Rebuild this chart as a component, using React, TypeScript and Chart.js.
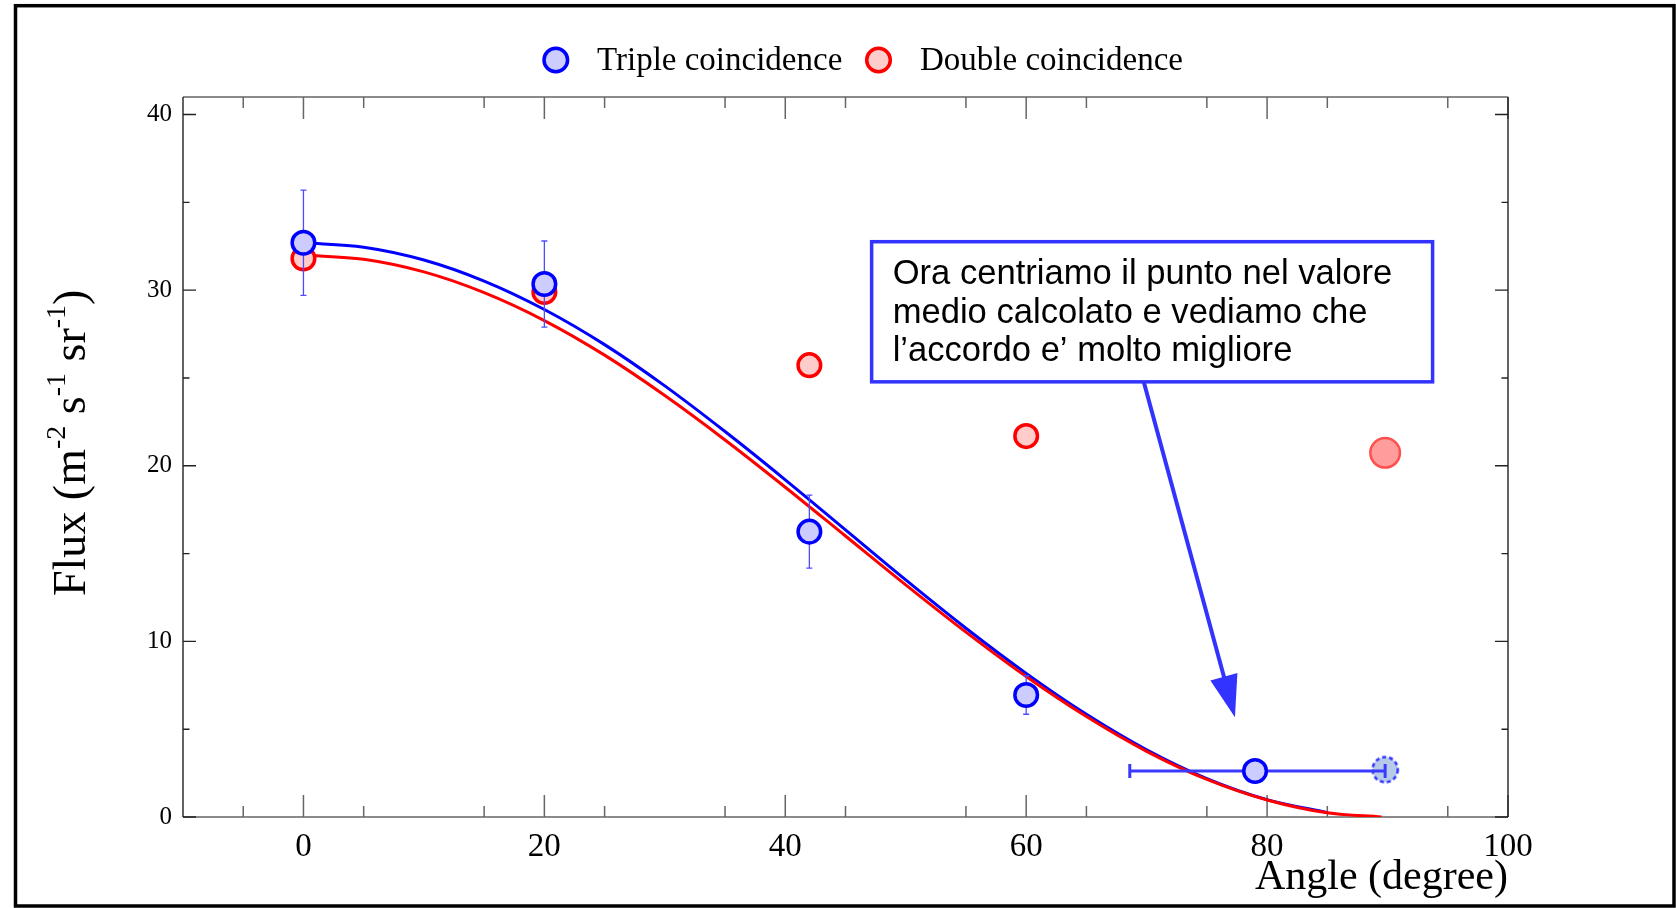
import React, { useEffect, useRef } from "react";
import { Chart, registerables } from "chart.js";

Chart.register(...registerables);

// ---------- data ----------
const fitAngles = [0, 5, 10, 15, 20, 25, 30, 35, 40, 45, 50, 55, 60, 65, 70, 75, 80, 85];
const tripleFit = [32.7, 32.45, 31.72, 30.52, 28.9, 26.9, 24.55, 21.95, 19.2, 16.35, 13.5, 10.75, 8.18, 5.85, 3.83, 2.19, 0.99, 0.25];
const doubleFitAngles = [0, 5, 10, 15, 20, 25, 30, 35, 40, 45, 50, 55, 60, 65, 70, 75, 80, 85, 89.5];
const doubleFit = [32.0, 31.76, 31.04, 29.86, 28.27, 26.3, 24.0, 21.47, 18.78, 16.0, 13.22, 10.53, 8.0, 5.72, 3.74, 2.14, 0.97, 0.24, 0.0];

const tripleAngles = [0, 20, 42, 60, 79];
const tripleFlux = [32.7, 30.35, 16.25, 6.95, 2.62];
const tripleFluxErr = [3.0, 2.45, 2.08, 1.1, 0];
const tripleAngleErrLow = [0, 0, 0, 0, 10.4];
const tripleAngleErrHigh = [0, 0, 0, 0, 10.8];

const tripleOldAngles = [89.8];
const tripleOldFlux = [2.7];

const doubleAngles = [0, 20, 42, 60];
const doubleFlux = [31.8, 29.9, 25.73, 21.69];
const doubleLastAngles = [89.8];
const doubleLastFlux = [20.74];

const xMajorTicks = [0, 20, 40, 60, 80, 100];
const xMinorTicks = [-5, 5, 15, 25, 35, 45, 55, 65, 75, 85, 95];
const yMajorTicks = [0, 10, 20, 30, 40];
const yMinorTicks = [5, 15, 25, 35];

const seriesLabels = ["Triple coincidence", "Double coincidence"];
const noteLines = [
  "Ora centriamo il punto nel valore",
  "medio calcolato e vediamo che",
  "l\u2019accordo e\u2019 molto migliore",
];
// annotation placement in data units
const noteBox = { x0: 47.17, x1: 93.74, y0: 32.76, y1: 24.78 };
const noteArrow = { x0: 69.77, y0: 24.76, x1: 77.33, y1: 5.68 };

const SERIF = '"Liberation Serif", "Times New Roman", serif';
const SANS = '"Liberation Sans", Arial, sans-serif';

function makeGhost(): HTMLCanvasElement {
  const c = document.createElement("canvas");
  c.width = 34;
  c.height = 34;
  const g = c.getContext("2d")!;
  g.beginPath();
  g.arc(17, 17, 12.6, 0, Math.PI * 2);
  g.fillStyle = "rgba(165,190,228,0.8)";
  g.fill();
  g.setLineDash([4, 3]);
  g.lineWidth = 2.5;
  g.strokeStyle = "#3333ff";
  g.stroke();
  return c;
}

function marker(ctx: CanvasRenderingContext2D, x: number, y: number, r: number, bw: number, fill: string, stroke: string) {
  ctx.beginPath();
  ctx.arc(x, y, r, 0, Math.PI * 2);
  ctx.fillStyle = fill;
  ctx.fill();
  ctx.lineWidth = bw;
  ctx.strokeStyle = stroke;
  ctx.stroke();
}

const decorPlugin = {
  id: "decor",
  beforeDatasetsDraw(chart: any) {
    const ctx: CanvasRenderingContext2D = chart.ctx;
    const { left, right, top, bottom } = chart.chartArea;
    const xs = chart.scales.x;
    const ys = chart.scales.y;
    ctx.save();
    ctx.strokeStyle = "#666";
    ctx.lineWidth = 1.5;
    ctx.beginPath();
    ctx.moveTo(left, bottom);
    ctx.lineTo(right, bottom);
    ctx.moveTo(left, top);
    ctx.lineTo(right, top);
    for (const v of xMajorTicks) {
      const p = xs.getPixelForValue(v);
      ctx.moveTo(p, bottom);
      ctx.lineTo(p, bottom - 22);
      ctx.moveTo(p, top);
      ctx.lineTo(p, top + 22);
    }
    for (const v of xMinorTicks) {
      const p = xs.getPixelForValue(v);
      ctx.moveTo(p, bottom);
      ctx.lineTo(p, bottom - 11);
      ctx.moveTo(p, top);
      ctx.lineTo(p, top + 11);
    }
    ctx.stroke();
    ctx.strokeStyle = "#222";
    ctx.lineWidth = 1.4;
    ctx.beginPath();
    ctx.moveTo(left, top);
    ctx.lineTo(left, bottom);
    ctx.moveTo(right, top);
    ctx.lineTo(right, bottom);
    for (const v of yMajorTicks) {
      const p = ys.getPixelForValue(v);
      ctx.moveTo(left, p);
      ctx.lineTo(left + 13, p);
      ctx.moveTo(right, p);
      ctx.lineTo(right - 13, p);
    }
    for (const v of yMinorTicks) {
      const p = ys.getPixelForValue(v);
      ctx.moveTo(left, p);
      ctx.lineTo(left + 6.5, p);
      ctx.moveTo(right, p);
      ctx.lineTo(right - 6.5, p);
    }
    ctx.stroke();
    ctx.restore();
  },
  beforeDatasetDraw(chart: any, args: any) {
    if (args.index !== 0) return;
    const ctx: CanvasRenderingContext2D = chart.ctx;
    const xs = chart.scales.x;
    const ys = chart.scales.y;
    ctx.save();
    tripleAngles.forEach((a, i) => {
      const px = xs.getPixelForValue(a);
      const py = ys.getPixelForValue(tripleFlux[i]);
      const e = tripleFluxErr[i];
      if (e > 0) {
        const y1 = ys.getPixelForValue(tripleFlux[i] + e);
        const y2 = ys.getPixelForValue(tripleFlux[i] - e);
        ctx.strokeStyle = "#4d4dff";
        ctx.lineWidth = 1.3;
        ctx.beginPath();
        ctx.moveTo(px, y1);
        ctx.lineTo(px, y2);
        ctx.moveTo(px - 3, y1);
        ctx.lineTo(px + 3, y1);
        ctx.moveTo(px - 3, y2);
        ctx.lineTo(px + 3, y2);
        ctx.stroke();
      }
      const lo = tripleAngleErrLow[i];
      const hi = tripleAngleErrHigh[i];
      if (lo > 0 || hi > 0) {
        const x1 = xs.getPixelForValue(a - lo);
        const x2 = xs.getPixelForValue(a + hi);
        ctx.strokeStyle = "#3a3aff";
        ctx.lineWidth = 3;
        ctx.beginPath();
        ctx.moveTo(x1, py);
        ctx.lineTo(x2, py);
        ctx.moveTo(x1, py - 7);
        ctx.lineTo(x1, py + 7);
        ctx.moveTo(x2, py - 7);
        ctx.lineTo(x2, py + 7);
        ctx.stroke();
      }
    });
    ctx.restore();
  },
  afterDatasetsDraw(chart: any) {
    const ctx: CanvasRenderingContext2D = chart.ctx;
    const xs = chart.scales.x;
    const ys = chart.scales.y;
    ctx.save();
    // ---- annotation box ----
    const bx0 = xs.getPixelForValue(noteBox.x0);
    const bx1 = xs.getPixelForValue(noteBox.x1);
    const by0 = ys.getPixelForValue(noteBox.y0);
    const by1 = ys.getPixelForValue(noteBox.y1);
    ctx.fillStyle = "#fff";
    ctx.fillRect(bx0, by0, bx1 - bx0, by1 - by0);
    ctx.strokeStyle = "#3333ff";
    ctx.lineWidth = 3.5;
    ctx.strokeRect(bx0, by0, bx1 - bx0, by1 - by0);
    ctx.fillStyle = "#000";
    ctx.font = "34.6px " + SANS;
    ctx.textAlign = "left";
    ctx.textBaseline = "alphabetic";
    noteLines.forEach((t, i) => ctx.fillText(t, bx0 + 21, by0 + 42.5 + i * 38.5));
    // ---- arrow ----
    const ax0 = xs.getPixelForValue(noteArrow.x0);
    const ay0 = ys.getPixelForValue(noteArrow.y0);
    const ax1 = xs.getPixelForValue(noteArrow.x1);
    const ay1 = ys.getPixelForValue(noteArrow.y1);
    const dx = ax1 - ax0;
    const dy = ay1 - ay0;
    const len = Math.hypot(dx, dy);
    const ux = dx / len;
    const uy = dy / len;
    const hl = 42;
    const hw = 14;
    const bxc = ax1 - ux * hl;
    const byc = ay1 - uy * hl;
    ctx.strokeStyle = "#3333ff";
    ctx.lineWidth = 4;
    ctx.beginPath();
    ctx.moveTo(ax0, ay0);
    ctx.lineTo(bxc + ux * 4, byc + uy * 4);
    ctx.stroke();
    ctx.fillStyle = "#3333ff";
    ctx.beginPath();
    ctx.moveTo(ax1, ay1);
    ctx.lineTo(bxc - uy * hw, byc + ux * hw);
    ctx.lineTo(bxc + uy * hw, byc - ux * hw);
    ctx.closePath();
    ctx.fill();

    // ---- legend ----
    ctx.textAlign = "left";
    ctx.font = "33px " + SERIF;
    marker(ctx, 555.8, 60, 11.8, 3.5, "#ccccff", "#0000ff");
    ctx.fillStyle = "#000";
    ctx.fillText(seriesLabels[0], 597, 69.5);
    marker(ctx, 878.5, 60, 11.8, 3.5, "#ffcccc", "#ff0000");
    ctx.fillStyle = "#000";
    ctx.fillText(seriesLabels[1], 920, 69.5);

    // ---- axis titles ----
    const { right } = chart.chartArea;
    ctx.font = "42px " + SERIF;
    ctx.textAlign = "right";
    ctx.fillText("Angle (degree)", right, 889);

    ctx.save();
    ctx.translate(85, 596);
    ctx.rotate(-Math.PI / 2);
    ctx.textAlign = "left";
    const parts = [
      { t: "Flux (m", sup: false },
      { t: "-2", sup: true },
      { t: " s", sup: false },
      { t: "-1", sup: true },
      { t: " sr", sup: false },
      { t: "-1", sup: true },
      { t: ")", sup: false },
    ];
    let x = 0;
    for (const p of parts) {
      ctx.font = (p.sup ? "28px " : "46px ") + SERIF;
      ctx.fillText(p.t, x, p.sup ? -20 : 0);
      x += ctx.measureText(p.t).width;
    }
    ctx.restore();
    ctx.restore();
  },
  afterDraw(chart: any) {
    const ctx: CanvasRenderingContext2D = chart.ctx;
    ctx.save();
    ctx.strokeStyle = "#000";
    ctx.lineWidth = 3.5;
    ctx.strokeRect(15.5, 5.7, 1658.5, 900.3);
    ctx.restore();
  },
};

export default function App() {
  const ref = useRef<HTMLCanvasElement | null>(null);
  useEffect(() => {
    if (!ref.current) return;
    const ghost = makeGhost();
    const chart = new Chart(ref.current, {
      type: "scatter",
      data: {
        datasets: [
          {
            label: seriesLabels[0],
            data: tripleAngles.map((x, i) => ({ x, y: tripleFlux[i] })),
            showLine: false,
            pointRadius: 11.3,
            pointBorderWidth: 3.5,
            pointBackgroundColor: "#ccccff",
            pointBorderColor: "#0000ff",
            order: 1,
          },
          {
            label: seriesLabels[0] + " (90\u00b0)",
            data: tripleOldAngles.map((x, i) => ({ x, y: tripleOldFlux[i] })),
            showLine: false,
            pointStyle: ghost,
            pointRadius: 13,
            order: 2,
          },
          {
            label: seriesLabels[1],
            data: doubleAngles.map((x, i) => ({ x, y: doubleFlux[i] })),
            showLine: false,
            pointRadius: 11.3,
            pointBorderWidth: 3.5,
            pointBackgroundColor: "#ffcccc",
            pointBorderColor: "#ff0000",
            order: 3,
          },
          {
            label: seriesLabels[1] + " (90\u00b0)",
            data: doubleLastAngles.map((x, i) => ({ x, y: doubleLastFlux[i] })),
            showLine: false,
            pointRadius: 14.8,
            pointBorderWidth: 2.5,
            pointBackgroundColor: "#ff9c9c",
            pointBorderColor: "#ff5050",
            order: 4,
          },
          {
            label: "Double fit",
            data: doubleFitAngles.map((x, i) => ({ x, y: doubleFit[i] })),
            showLine: true,
            pointRadius: 0,
            borderColor: "#ff0000",
            borderWidth: 3,
            cubicInterpolationMode: "monotone",
            order: 5,
          },
          {
            label: "Triple fit",
            data: fitAngles.map((x, i) => ({ x, y: tripleFit[i] })),
            showLine: true,
            pointRadius: 0,
            borderColor: "#0000ff",
            borderWidth: 3,
            cubicInterpolationMode: "monotone",
            order: 6,
          },
        ],
      },
      options: {
        responsive: false,
        animation: false,
        devicePixelRatio: 1,
        layout: { padding: { left: 63, top: 97, right: 168, bottom: 31 } },
        plugins: {
          legend: { display: false },
          tooltip: { enabled: false },
          title: { display: false },
        },
        events: [],
        scales: {
          x: {
            type: "linear",
            position: "bottom",
            min: -10,
            max: 100,
            afterBuildTicks: (s: any) => {
              s.ticks = xMajorTicks.map((v) => ({ value: v }));
            },
            afterFit: (s: any) => {
              s.height = 60;
            },
            grid: { display: false, drawTicks: false },
            border: { display: false },
            ticks: {
              font: { family: SERIF, size: 33 },
              color: "#000",
              padding: 11,
              maxRotation: 0,
              autoSkip: false,
            },
          },
          y: {
            type: "linear",
            position: "left",
            min: 0,
            max: 41,
            afterBuildTicks: (s: any) => {
              s.ticks = yMajorTicks.map((v) => ({ value: v }));
            },
            afterFit: (s: any) => {
              s.width = 120;
            },
            grid: { display: false, drawTicks: false },
            border: { display: false },
            ticks: {
              font: { family: SERIF, size: 25 },
              color: "#000",
              padding: 11,
              autoSkip: false,
            },
          },
        },
      },
      plugins: [decorPlugin],
    } as any);
    return () => chart.destroy();
  }, []);

  return (
    <div style={{ position: "fixed", left: 0, top: 0, width: 1676, height: 908, background: "#fff" }}>
      <canvas ref={ref} width={1676} height={908} style={{ display: "block", width: 1676, height: 908 }} />
    </div>
  );
}
